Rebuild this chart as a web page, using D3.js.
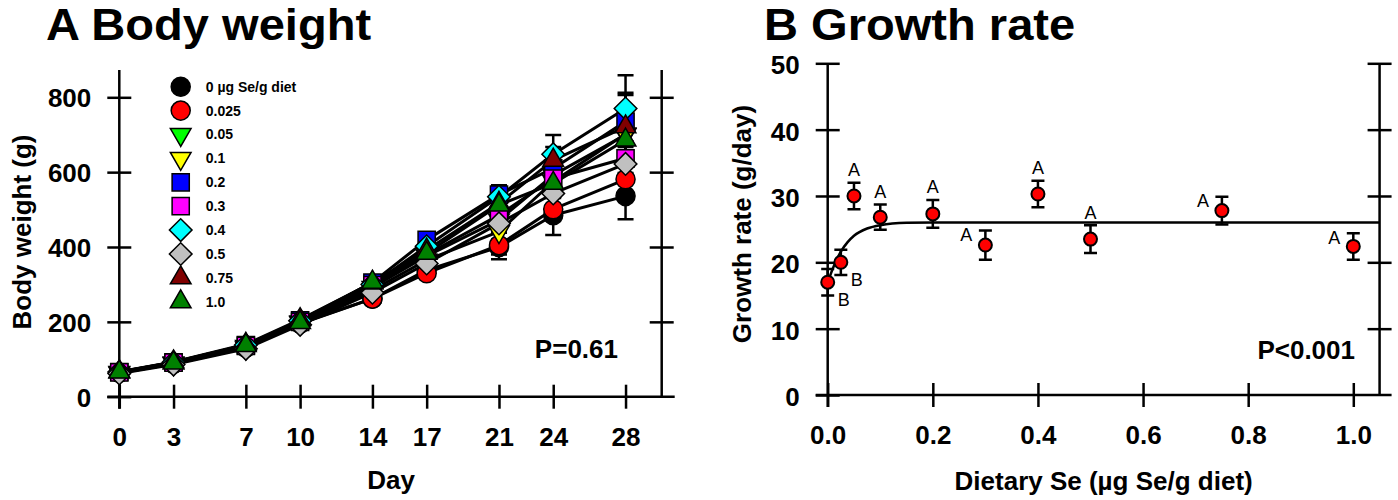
<!DOCTYPE html>
<html>
<head>
<meta charset="utf-8">
<script src="https://cdn.jsdelivr.net/npm/d3@7"></script>
<style>
  body { margin: 0; background: #fff; }
  svg { display: block; font-family: "Liberation Sans", Arial, Helvetica, sans-serif; }
</style>
</head>
<body>
<svg id="chart" width="1398" height="500"></svg>
<script>
//DATA ------------------------------------------------------------------------------------
// Panel A: body weight (g) per day, one row per dietary Se group
const days = [0, 3, 7, 10, 14, 17, 21, 24, 28];
const groupLabels = ["0 \u00b5g Se/g diet", "0.025", "0.05", "0.1", "0.2", "0.3", "0.4", "0.5", "0.75", "1.0"];
const weightMeans = [
    [64, 88, 132, 196, 262, 338, 400, 485, 536],
    [64, 88, 131, 195, 262, 330, 405, 501, 581],
    [65, 90, 134, 200, 292, 376, 472, 592, 700],
    [63, 88, 130, 198, 285, 365, 441, 575, 702],
    [66, 92, 138, 204, 305, 419, 540, 610, 735],
    [65, 91, 136, 200, 298, 380, 485, 583, 637],
    [66, 92, 138, 203, 300, 402, 534, 648, 770],
    [62, 86, 128, 192, 278, 356, 463, 543, 622],
    [67, 93, 140, 206, 304, 392, 517, 632, 721],
    [66, 90, 137, 198, 306, 383, 512, 570, 686]
];
const weightSems = [
    [3, 4, 6, 8, 10, 14, 20, 53, 62],
    [3, 4, 6, 8, 10, 12, 38, 30, 40],
    [3, 4, 6, 8, 12, 15, 25, 35, 45],
    [3, 4, 6, 8, 12, 15, 25, 35, 45],
    [3, 4, 6, 8, 12, 12, 20, 30, 77],
    [3, 4, 6, 8, 12, 15, 25, 35, 45],
    [3, 4, 6, 8, 12, 15, 31, 51, 89],
    [3, 4, 6, 8, 12, 15, 25, 35, 45],
    [3, 4, 6, 8, 12, 15, 25, 35, 85],
    [3, 4, 6, 8, 12, 15, 25, 35, 45]
];
const dayTicks = [0, 3, 7, 10, 14, 17, 21, 24, 28];
const weightTicks = [0, 200, 400, 600, 800];

// Panel B: growth rate (g/day) vs dietary Se
const seLevels = [0, 0.025, 0.05, 0.1, 0.2, 0.3, 0.4, 0.5, 0.75, 1.0];
const growthMean = [17.0, 20.0, 30.0, 26.8, 27.3, 22.6, 30.3, 23.5, 27.8, 22.4];
const growthSem = [2.0, 1.9, 2.0, 1.9, 2.1, 2.2, 2.0, 2.1, 2.1, 2.0];
const growthLetters = ["B", "B", "A", "A", "A", "A", "A", "A", "A", "A"];
// fitted curve
const fitDose = [0, 0.0125, 0.025, 0.0375, 0.05, 0.075, 0.1, 0.15, 0.2, 1.05];
const fitRate = [17.0, 19.6, 21.6, 23.0, 24.0, 25.1, 25.6, 25.95, 26.0, 26.0];
const doseTicks = [0, 0.2, 0.4, 0.6, 0.8, 1.0];
const rateTicks = [0, 10, 20, 30, 40, 50];

//STYLE -----------------------------------------------------------------------------------
const markerShapes = ["circle", "circle", "triDown", "triDown", "square", "square", "diamond", "diamond", "triUp", "triUp"];
const markerFills = ["#000000", "#ff0000", "#00ff00", "#ffff00", "#0000ff", "#ff00ff", "#00ffff", "#c0c0c0", "#800000", "#008000"];
const letterSide = ["br", "br", "top", "top", "top", "left", "top", "top", "left", "left"];

const svg = d3.select("#chart");

const symbolPath = (shape) => {
    if (shape === "circle") return d3.symbol(d3.symbolCircle, 285)();
    if (shape === "square") return d3.symbol(d3.symbolSquare, 295)();
    if (shape === "diamond") return d3.symbol(d3.symbolSquare, 256)();
    return d3.symbol(d3.symbolTriangle, 185)();
};
const symbolRotate = (shape) => shape === "diamond" ? 45 : (shape === "triDown" ? 180 : 0);

// crossing ticks: tick lines go both sides of the axis line
const styleAxis = (g) => {
    g.select(".domain").remove();
    g.attr("font-family", null).attr("font-size", 26).attr("font-weight", "bold");
    g.selectAll(".tick line").attr("stroke", "#000").attr("stroke-width", 2.5);
    g.selectAll(".tick text").attr("fill", "#000");
};

const axisLine = (x1, y1, x2, y2) => svg.append("line")
    .attr("x1", x1).attr("y1", y1).attr("x2", x2).attr("y2", y2)
    .attr("stroke", "#000").attr("stroke-width", 2.5);

const panelTitle = (x, label) => svg.append("text")
    .attr("transform", `translate(${x},40) scale(1.07,1)`)
    .attr("font-size", 44).attr("font-weight", "bold").text(label);

//PANEL A: BODY WEIGHT --------------------------------------------------------------------
const xA = d3.scaleLinear().domain([0, 30]).range([119.3, 661.7]);
const yA = d3.scaleLinear().domain([0, 800]).range([396.7, 97.3]);

panelTitle(46, "A Body weight");

axisLine(xA(0), yA(873), xA(0), yA(0) + 12);
axisLine(xA(30), yA(873), xA(30), yA(0));
axisLine(xA(0) - 12, yA(0), xA(30) + 13, yA(0));

svg.append("g").attr("transform", `translate(${xA(0)},0)`)
    .call(d3.axisLeft(yA).tickValues(weightTicks).tickSize(12).tickPadding(16))
    .call(styleAxis)
    .call(g => g.selectAll(".tick line").attr("x1", 12))
    .call(g => g.selectAll(".tick text").attr("dy", "0.36em"));

svg.append("g").attr("transform", `translate(${xA(30)},0)`)
    .call(d3.axisRight(yA).tickValues(weightTicks.slice(1)).tickSize(12).tickFormat(""))
    .call(styleAxis)
    .call(g => g.selectAll(".tick line").attr("x1", -12));

svg.append("g").attr("transform", `translate(0,${yA(0)})`)
    .call(d3.axisBottom(xA).tickValues(dayTicks).tickSize(12).tickPadding(19))
    .call(styleAxis)
    .call(g => g.selectAll(".tick line").attr("y1", -12));

svg.append("text").attr("x", (xA(0) - 12 + xA(30) + 13) / 2).attr("y", 489)
    .attr("text-anchor", "middle").attr("font-size", 26).attr("font-weight", "bold").text("Day");

svg.append("text").attr("transform", "translate(31,232) rotate(-90)")
    .attr("text-anchor", "middle").attr("font-size", 26).attr("font-weight", "bold").text("Body weight (g)");

svg.append("text").attr("x", 618).attr("y", 358).attr("text-anchor", "end")
    .attr("font-size", 26).attr("font-weight", "bold").text("P=0.61");

const weightLine = d3.line().x((d, i) => xA(days[i])).y(d => yA(d));
const gA = svg.append("g");

weightMeans.forEach(row => {
    gA.append("path").datum(row)
        .attr("fill", "none").attr("stroke", "#000").attr("stroke-width", 3)
        .attr("stroke-linejoin", "round").attr("d", weightLine);
});

weightMeans.forEach((row, k) => {
    row.forEach((m, i) => {
        const s = weightSems[k][i];
        const x = xA(days[i]);
        gA.append("path")
            .attr("d", `M${x},${yA(m - s)}V${yA(m + s)}M${x - 8},${yA(m + s)}H${x + 8}M${x - 8},${yA(m - s)}H${x + 8}`)
            .attr("fill", "none").attr("stroke", "#000").attr("stroke-width", 2.5);
    });
});

weightMeans.forEach((row, k) => {
    gA.selectAll(null).data(row).enter().append("path")
        .attr("d", symbolPath(markerShapes[k]))
        .attr("transform", (d, i) => `translate(${xA(days[i])},${yA(d)}) rotate(${symbolRotate(markerShapes[k])})`)
        .attr("fill", markerFills[k]).attr("stroke", "#000").attr("stroke-width", 1.5);
});

// legend
const legend = svg.append("g").attr("transform", "translate(180.7,86.7)");
groupLabels.forEach((label, k) => {
    legend.append("path")
        .attr("d", symbolPath(markerShapes[k]))
        .attr("transform", `translate(0,${k * 23.9}) rotate(${symbolRotate(markerShapes[k])})`)
        .attr("fill", markerFills[k]).attr("stroke", "#000").attr("stroke-width", 1.5);
    legend.append("text").attr("x", 25).attr("y", k * 23.9 + 5)
        .attr("font-size", 14).attr("font-weight", "bold").text(label);
});

//PANEL B: GROWTH RATE --------------------------------------------------------------------
const xB = d3.scaleLinear().domain([0, 1]).range([827.7, 1353.3]);
const yB = d3.scaleLinear().domain([0, 50]).range([395, 63.3]);

panelTitle(764, "B Growth rate");

axisLine(xB(0), yB(50), xB(0), yB(0) + 12);
axisLine(xB(1.05), yB(50), xB(1.05), yB(0));
axisLine(xB(0) - 12, yB(0), xB(1.05) + 12, yB(0));

svg.append("g").attr("transform", `translate(${xB(0)},0)`)
    .call(d3.axisLeft(yB).tickValues(rateTicks).tickSize(12).tickPadding(16))
    .call(styleAxis)
    .call(g => g.selectAll(".tick line").attr("x1", 12))
    .call(g => g.selectAll(".tick text").attr("dy", "0.40em"));

svg.append("g").attr("transform", `translate(${xB(1.05)},0)`)
    .call(d3.axisRight(yB).tickValues(rateTicks.slice(1)).tickSize(12).tickFormat(""))
    .call(styleAxis)
    .call(g => g.selectAll(".tick line").attr("x1", -12));

svg.append("g").attr("transform", `translate(0,${yB(0)})`)
    .call(d3.axisBottom(xB).tickValues(doseTicks).tickSize(12).tickPadding(19).tickFormat(d3.format(".1f")))
    .call(styleAxis)
    .call(g => g.selectAll(".tick line").attr("y1", -12));

svg.append("text").attr("x", (xB(0) - 12 + xB(1.05) + 12) / 2).attr("y", 490)
    .attr("text-anchor", "middle").attr("font-size", 26).attr("font-weight", "bold").text("Dietary Se (\u00b5g Se/g diet)");

svg.append("text").attr("transform", "translate(751,224) rotate(-90)")
    .attr("text-anchor", "middle").attr("font-size", 26).attr("font-weight", "bold").text("Growth rate (g/day)");

svg.append("text").attr("x", 1355).attr("y", 359).attr("text-anchor", "end")
    .attr("font-size", 26).attr("font-weight", "bold").text("P<0.001");

const gB = svg.append("g");

const fitLine = d3.line().curve(d3.curveMonotoneX)
    .x((d, i) => xB(fitDose[i])).y(d => yB(d));
gB.append("path").datum(fitRate)
    .attr("fill", "none").attr("stroke", "#000").attr("stroke-width", 2.5).attr("d", fitLine);

gB.selectAll(".errbar").data(growthMean).enter().append("path")
    .attr("class", "errbar")
    .attr("d", (m, i) => {
        const x = xB(seLevels[i]), s = growthSem[i];
        return `M${x},${yB(m - s)}V${yB(m + s)}M${x - 6.5},${yB(m + s)}H${x + 6.5}M${x - 6.5},${yB(m - s)}H${x + 6.5}`;
    })
    .attr("fill", "none").attr("stroke", "#000").attr("stroke-width", 2.5);

gB.selectAll(".pt").data(growthMean).enter().append("circle")
    .attr("class", "pt")
    .attr("cx", (d, i) => xB(seLevels[i])).attr("cy", d => yB(d))
    .attr("r", 6.5).attr("fill", "#ff0000").attr("stroke", "#000").attr("stroke-width", 2);

gB.selectAll(".letter").data(growthLetters).enter().append("text")
    .attr("class", "letter")
    .attr("x", (d, i) => xB(seLevels[i]) + (letterSide[i] === "br" ? 16 : letterSide[i] === "left" ? -19 : 0))
    .attr("y", (d, i) => {
        const top = yB(growthMean[i] + growthSem[i]);
        if (letterSide[i] === "br") return yB(growthMean[i]) + 17;
        if (letterSide[i] === "left") return top + 4;
        return top - 13;
    })
    .attr("dy", "0.36em").attr("text-anchor", "middle").attr("font-size", 18).text(d => d);
</script>
</body>
</html>
